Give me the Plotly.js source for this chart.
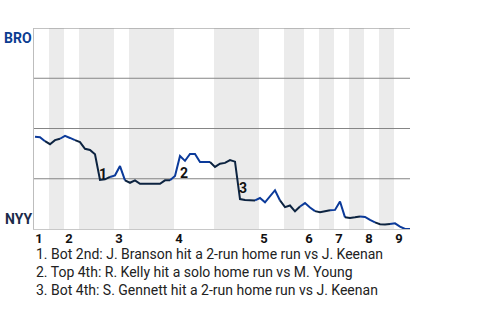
<!DOCTYPE html>
<html><head><meta charset="utf-8">
<script src="https://cdn.plot.ly/plotly-3.0.1.min.js"></script>
<style>html,body{margin:0;padding:0;background:#fff}#chart{width:480px;height:320px}</style>
</head><body><div id="chart"></div>
<script>
// Plate-appearance index and Brooklyn win probability (%) after each play
const playIndex = [0,1,2,3,4,5,6,7,8,9,10,11,12,13,14,15,16,17,18,19,20,21,22,23,24,25,26,27,28,29,30,31,32,33,34,35,36,37,38,39,40,41,42,43,44,45,46,47,48,49,50,51,52,53,54,55,56,57,58,59,60,61,62,63,64,65,66,67,68,69,70,71,72,73,74,75];
const broWinPct = [45.9,45.7,43.7,42.2,44.2,44.9,46.3,45.3,44.2,43.2,39.9,39.3,37.2,24.4,24.7,25.9,26.7,31.3,24.2,23.0,24.2,22.5,22.5,22.5,22.5,22.5,24.2,24.2,26.4,36.3,33.9,37.3,37.3,33.3,33.3,33.3,30.9,32.5,32.9,34.3,33.5,14.9,14.4,14.3,14.2,15.4,13.3,16.3,19.3,14.2,10.9,11.7,8.8,11.2,12.9,10.7,8.9,8.3,8.8,9.3,9.5,13.7,5.8,5.5,5.8,6.2,6.0,4.5,3.3,2.4,2.3,2.5,2.8,1.2,0,0];
// Where each half inning begins (top 1st, bot 1st, top 2nd, ...)
const halfInningStarts = [-0.2,2.8,5.8,8.8,15.8,18.8,27.8,35.8,44.8,49.8,53.8,56.8,59.8,62.8,65.8,68.8,71.8];
const gameEnd = 75;
const inningLabels = ["1","2","3","4","5","6","7","8","9"];
const teams = ["BRO","NYY"];
const teamColors = ["#0b3d91","#1c2b4a"];
const eventNumbers = ["1","2","3"];
const eventLabelX = [13.5,29.7,41.6];
const eventLabelY = [27.2,27.7,20.4];
const notes = [
  "1. Bot 2nd: J. Branson hit a 2-run home run vs J. Keenan",
  "2. Top 4th: R. Kelly hit a solo home run vs M. Young",
  "3. Bot 4th: S. Gennett hit a 2-run home run vs J. Keenan"
];

const FONT = "Roboto, 'Noto Sans', sans-serif";
const lineColors = ["#0b3a9a", "#0c2340"]; // top half, bottom half

const traces = [];
for (let h = 0; h < halfInningStarts.length; h++) {
  const s = halfInningStarts[h];
  const e = h + 1 < halfInningStarts.length ? halfInningStarts[h+1] : gameEnd + 1;
  const xs = [], ys = [];
  for (let i = 0; i < playIndex.length; i++) {
    const x = playIndex[i];
    if (x > s && x < e) {
      if (xs.length === 0 && i > 0) { xs.push(playIndex[i-1]); ys.push(broWinPct[i-1]); }
      xs.push(x); ys.push(broWinPct[i]);
    }
  }
  traces.push({x: xs, y: ys, type: 'scatter', mode: 'lines',
    line: {color: lineColors[h % 2], width: 2}, hoverinfo: 'skip', showlegend: false});
}

const shapes = [];
for (let h = 1; h < halfInningStarts.length; h += 2) {
  const e = h + 1 < halfInningStarts.length ? halfInningStarts[h+1] : gameEnd;
  shapes.push({type: 'rect', xref: 'x', yref: 'paper', x0: halfInningStarts[h], x1: e, y0: 0, y1: 1,
    fillcolor: '#ebebeb', line: {width: 0}, layer: 'below'});
}
[25, 50, 75, 100].forEach(v => shapes.push({type: 'line', xref: 'paper', yref: 'y', x0: 0, x1: 1, y0: v, y1: v,
  line: {color: '#858585', width: 1}, layer: 'below'}));

const tickvals = [];
for (let h = 0; h < halfInningStarts.length; h += 2) tickvals.push(halfInningStarts[h] + 1);

const annotations = [];
annotations.push({xref: 'paper', yref: 'y', x: 0, y: 100, xanchor: 'right', yanchor: 'top', showarrow: false,
  text: teams[0], font: {family: FONT, size: 14, weight: 'bold', color: teamColors[0]}});
annotations.push({xref: 'paper', yref: 'y', x: 0, y: 0, xanchor: 'right', yanchor: 'bottom', showarrow: false,
  text: teams[1], font: {family: FONT, size: 14, weight: 'bold', color: teamColors[1]}});
for (let k = 0; k < eventNumbers.length; k++) {
  annotations.push({xref: 'x', yref: 'y', x: eventLabelX[k], y: eventLabelY[k], xanchor: 'center', yanchor: 'middle',
    showarrow: false, text: eventNumbers[k], font: {family: FONT, size: 14, weight: 'bold', color: '#111'}});
}
const noteY = [-0.1244, -0.2139, -0.3035];
for (let k = 0; k < notes.length; k++) {
  annotations.push({xref: 'paper', yref: 'paper', x: 0, y: noteY[k], xanchor: 'left', yanchor: 'middle',
    showarrow: false, text: notes[k], font: {family: FONT, size: 14, color: '#222'}});
}

const layout = {
  width: 480, height: 320,
  margin: {l: 34, r: 70, t: 28, b: 91},
  paper_bgcolor: '#fff', plot_bgcolor: '#fff',
  xaxis: {range: [-0.2, gameEnd], showgrid: false, zeroline: false, showline: true, linecolor: '#c8c8c8', linewidth: 1,
    tickvals: tickvals, ticktext: inningLabels, ticks: '', ticklabelstandoff: -3,
    tickfont: {family: FONT, size: 13, weight: 'bold', color: '#111'}, fixedrange: true},
  yaxis: {range: [0, 100], showgrid: false, zeroline: false, showline: true, linecolor: '#bdbdbd', linewidth: 1,
    showticklabels: false, ticks: '', fixedrange: true},
  shapes: shapes,
  annotations: annotations,
  showlegend: false
};
Plotly.newPlot('chart', traces, layout, {displayModeBar: false, staticPlot: true});
</script>
</body></html>
